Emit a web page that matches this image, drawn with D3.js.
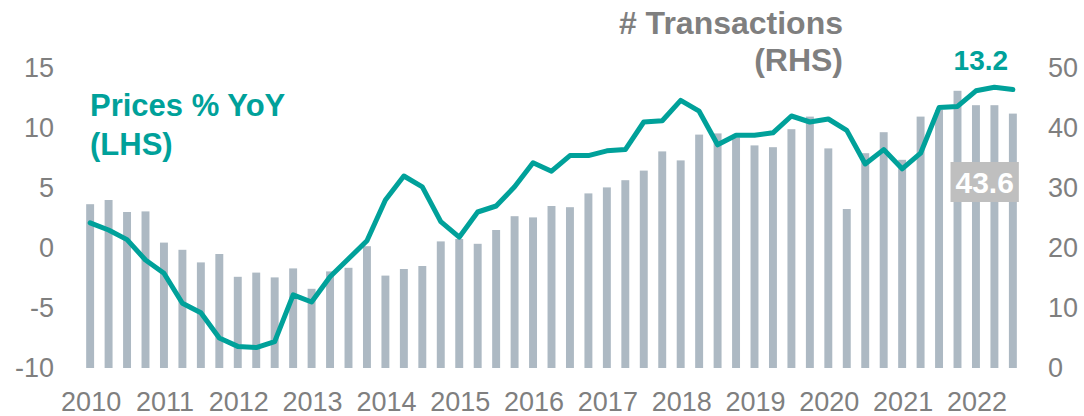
<!DOCTYPE html>
<html>
<head>
<meta charset="utf-8">
<script src="https://cdn.jsdelivr.net/npm/d3@7"></script>
<style>
  html, body { margin: 0; padding: 0; background: #ffffff; }
  svg { display: block; }
  text { font-family: "Liberation Sans", Arial, sans-serif; }
</style>
</head>
<body>
<svg id="chart" width="1084" height="416"></svg>
<script>
// ---- Data ----
const quarters = [
  "2010Q1","2010Q2","2010Q3","2010Q4",
  "2011Q1","2011Q2","2011Q3","2011Q4",
  "2012Q1","2012Q2","2012Q3","2012Q4",
  "2013Q1","2013Q2","2013Q3","2013Q4",
  "2014Q1","2014Q2","2014Q3","2014Q4",
  "2015Q1","2015Q2","2015Q3","2015Q4",
  "2016Q1","2016Q2","2016Q3","2016Q4",
  "2017Q1","2017Q2","2017Q3","2017Q4",
  "2018Q1","2018Q2","2018Q3","2018Q4",
  "2019Q1","2019Q2","2019Q3","2019Q4",
  "2020Q1","2020Q2","2020Q3","2020Q4",
  "2021Q1","2021Q2","2021Q3","2021Q4",
  "2022Q1","2022Q2","2022Q3"
];
// # Transactions (RHS, thousands)
const transactions = [
  27.3, 28.0, 26.0, 26.1,
  20.9, 19.7, 17.6, 19.0,
  15.2, 15.9, 15.1, 16.6,
  13.2, 16.1, 16.7, 20.3,
  15.4, 16.5, 17.0, 21.1,
  21.5, 20.7, 23.0, 25.3,
  25.1, 27.0, 26.8, 29.1,
  30.1, 31.3, 32.9, 36.1,
  34.6, 38.9, 39.1, 38.4,
  37.1, 36.8, 39.8, 41.9,
  36.6, 26.5, 35.8, 39.3,
  34.7, 41.9, 43.0, 46.2,
  43.8, 43.8, 42.4
];
// Prices % YoY (LHS)
const pricesYoY = [
  2.1, 1.5, 0.7, -1.0,
  -2.1, -4.6, -5.4, -7.5,
  -8.2, -8.3, -7.8, -3.9,
  -4.5, -2.4, -0.9, 0.6,
  4.0, 6.0, 5.1, 2.2,
  0.9, 3.0, 3.5, 5.1,
  7.1, 6.4, 7.7, 7.7,
  8.1, 8.2, 10.5, 10.6,
  12.3, 11.4, 8.6, 9.4,
  9.4, 9.6, 11.0, 10.5,
  10.75, 9.8, 7.0, 8.2,
  6.6, 7.9, 11.7, 11.8,
  13.1, 13.4, 13.2
];
const leftTicks = [-10, -5, 0, 5, 10, 15];
const rightTicks = [0, 10, 20, 30, 40, 50];
const yearLabels = ["2010","2011","2012","2013","2014","2015","2016","2017","2018","2019","2020","2021","2022"];
const lastPriceLabel = "13.2";
const lastTransLabel = "43.6";

// ---- Style ----
const teal = "#00a19a";
const barColor = "#adb9c3";
const axisGray = "#7f7f7f";
const labelGray = "#7f7f7f";

const svg = d3.select("#chart");

const x = d3.scaleBand()
  .domain(quarters)
  .range([81, 1022])
  .paddingInner(0.57)
  .paddingOuter(0.28);

const yL = d3.scaleLinear().domain([-10, 15]).range([368, 68]);
const yR = d3.scaleLinear().domain([0, 50]).range([368, 68]);

// Bars
svg.append("g").selectAll("rect")
  .data(quarters)
  .join("rect")
  .attr("x", d => x(d))
  .attr("width", x.bandwidth())
  .attr("y", (d, i) => yR(transactions[i]))
  .attr("height", (d, i) => yR(0) - yR(transactions[i]))
  .attr("fill", barColor);

// Line
const line = d3.line()
  .x((d, i) => x(quarters[i]) + x.bandwidth() / 2)
  .y(d => yL(d));

svg.append("path")
  .datum(pricesYoY)
  .attr("d", line)
  .attr("fill", "none")
  .attr("stroke", teal)
  .attr("stroke-width", 5)
  .attr("stroke-linejoin", "round")
  .attr("stroke-linecap", "round");

// Left axis
const gL = svg.append("g")
  .attr("transform", "translate(56,0)")
  .call(d3.axisLeft(yL).tickValues(leftTicks).tickSize(0).tickPadding(2).tickFormat(d => String(d)));
gL.select(".domain").remove();
gL.selectAll("text")
  .attr("font-family", "Liberation Sans, Arial, sans-serif")
  .attr("font-size", 27)
  .attr("fill", axisGray);

// Right axis
const gR = svg.append("g")
  .attr("transform", "translate(1046,0)")
  .call(d3.axisRight(yR).tickValues(rightTicks).tickSize(0).tickPadding(2).tickFormat(d => String(d)));
gR.select(".domain").remove();
gR.selectAll("text")
  .attr("font-family", "Liberation Sans, Arial, sans-serif")
  .attr("font-size", 27)
  .attr("fill", axisGray);

// Bottom axis (years at Q1)
const q1 = yearLabels.map(y => y + "Q1");
const gB = svg.append("g")
  .attr("transform", "translate(1,372)")
  .call(d3.axisBottom(x).tickValues(q1).tickSize(0).tickPadding(0).tickFormat(d => d.slice(0, 4)));
gB.select(".domain").remove();
gB.selectAll("text")
  .attr("font-family", "Liberation Sans, Arial, sans-serif")
  .attr("font-size", 27)
  .attr("fill", axisGray)
  .attr("dy", "0.72em")
  .attr("y", 20);

// Series labels
const pl = svg.append("text")
  .attr("font-size", 31).attr("font-weight", "bold")
  .attr("fill", teal);
pl.append("tspan").attr("x", 90).attr("y", 116).text("Prices % YoY");
pl.append("tspan").attr("x", 90).attr("y", 155).text("(LHS)");

const tl = svg.append("text")
  .attr("text-anchor", "end")
  .attr("font-size", 32).attr("font-weight", "bold")
  .attr("fill", labelGray);
tl.append("tspan").attr("x", 843).attr("y", 34).text("# Transactions");
tl.append("tspan").attr("x", 843).attr("y", 71).text("(RHS)");

// Last value label for the line
const lastI = quarters.length - 1;
svg.append("text")
  .attr("x", x(quarters[lastI]) + x.bandwidth() / 2 - 32)
  .attr("y", 70)
  .attr("text-anchor", "middle")
  .attr("font-size", 28).attr("font-weight", "bold")
  .attr("fill", teal)
  .text(lastPriceLabel);

// Transactions value box
const bx = x(quarters[lastI - 3]) - 3;
const bw = x(quarters[lastI]) + x.bandwidth() + 2 - bx;
svg.append("rect")
  .attr("x", bx).attr("y", 162)
  .attr("width", bw).attr("height", 40)
  .attr("fill", "#bfbfbf");
svg.append("text")
  .attr("x", bx + bw / 2).attr("y", 193)
  .attr("text-anchor", "middle")
  .attr("font-size", 30).attr("font-weight", "bold")
  .attr("fill", "#ffffff")
  .text(lastTransLabel);
</script>
</body>
</html>
